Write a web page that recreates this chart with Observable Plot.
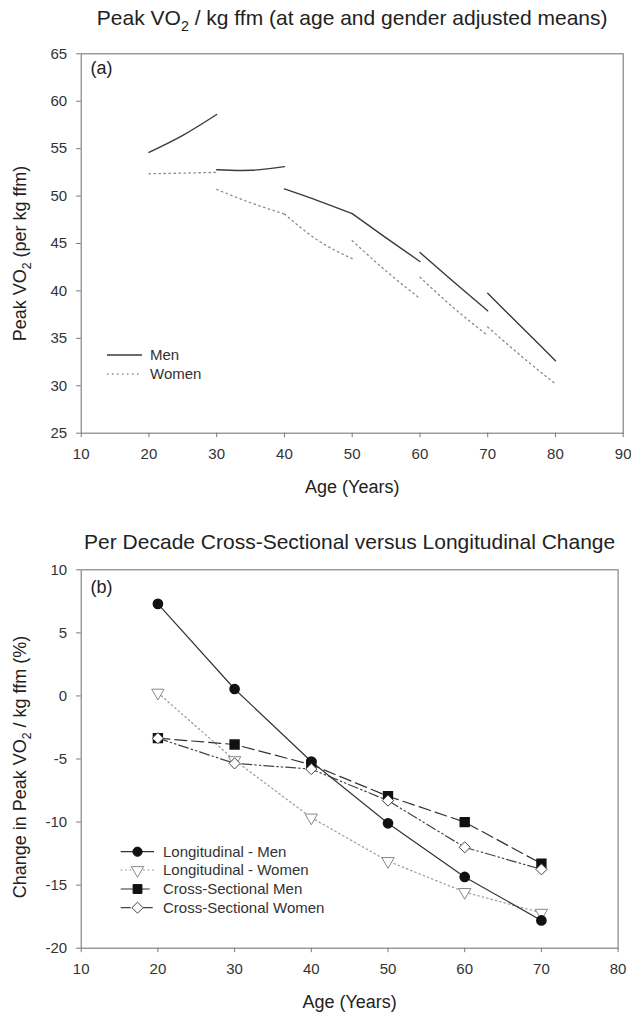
<!DOCTYPE html>
<html><head><meta charset="utf-8">
<script src="https://cdn.jsdelivr.net/npm/d3@7"></script>
<script src="https://cdn.jsdelivr.net/npm/@observablehq/plot@0.6"></script>
<style>
html,body{margin:0;padding:0;background:#fff;}
#root{position:relative;width:631px;height:1012px;overflow:hidden;background:#fff;}
#root svg{display:block;position:absolute;left:0;}
</style></head><body><div id="root"></div>
<script>
// ---------- Panel (a): Peak VO2 / kg ffm, per decade segments ----------
const decadeStart = [20, 30, 40, 50, 60, 70];
const menStart   = [54.6, 52.78, 50.75, 48.15, 44.05, 39.75];
const menMid     = [56.4, 52.72, 49.5, 45.6, 40.95, 36.2];
const menEnd     = [58.6, 53.1, 48.15, 43.1, 37.9, 32.65];
const womenStart = [52.35, 50.7, 48.1, 45.3, 41.45, 36.2];
const womenMid   = [52.42, 49.3, 45.3, 42.1, 38.2, 33.1];
const womenEnd   = [52.5, 48.1, 43.4, 39.2, 35.3, 30.2];
const xTicksA = [10, 20, 30, 40, 50, 60, 70, 80, 90];
const yTicksA = [25, 30, 35, 40, 45, 50, 55, 60, 65];
const titleA = "Peak VO2 / kg ffm (at age and gender adjusted means)";
const yLabelA = "Peak VO2 (per kg ffm)";
const legendA = ["Men", "Women"];

// ---------- Panel (b): per decade change ----------
const agesB = [20, 30, 40, 50, 60, 70];
const longMen    = [7.3, 0.55, -5.2, -10.1, -14.35, -17.8];
const longWomen  = [0.25, -5.1, -9.65, -13.1, -15.55, -17.2];
const crossMen   = [-3.35, -3.85, -5.45, -7.95, -10.0, -13.3];
const crossWomen = [-3.35, -5.35, -5.8, -8.3, -12.0, -13.75];
const xTicksB = [10, 20, 30, 40, 50, 60, 70, 80];
const yTicksB = [-20, -15, -10, -5, 0, 5, 10];
const titleB = "Per Decade Cross-Sectional versus Longitudinal Change";
const yLabelB = "Change in Peak VO2 / kg ffm (%)";
const legendB = ["Longitudinal - Men", "Longitudinal - Women", "Cross-Sectional Men", "Cross-Sectional Women"];
const xLabel = "Age (Years)";

const FONT = "'Liberation Sans', Arial, Helvetica, sans-serif";
const AXIS = "#7a7a7a";
const TEXT = "#333";
const MEN = "#3a3a3a";
const WOMEN = "#8a8a8a";

const invTriangle = {
  draw(ctx, size) {
    const s = Math.sqrt(4 * size / Math.sqrt(3));
    const h = s * Math.sqrt(3) / 2;
    ctx.moveTo(0, 2 * h / 3);
    ctx.lineTo(-s / 2, -h / 3);
    ctx.lineTo(s / 2, -h / 3);
    ctx.closePath();
  }
};

function segRows(starts, mids, ends) {
  const rows = [];
  decadeStart.forEach((a, i) => {
    rows.push({seg: i, age: a, v: starts[i]});
    rows.push({seg: i, age: a + 5, v: mids[i]});
    rows.push({seg: i, age: a + 10, v: ends[i]});
  });
  return rows;
}
const menRows = segRows(menStart, menMid, menEnd);
const womenRows = segRows(womenStart, womenMid, womenEnd);

function axes(xt, yt) {
  return [
    Plot.frame({stroke: AXIS, strokeWidth: 1.1}),
    Plot.axisX({ticks: xt, tickSize: 4.5, tickPadding: 11, tickFormat: d => String(d), label: null,
      stroke: AXIS, fill: TEXT, fontSize: 15}),
    Plot.axisY({ticks: yt, tickSize: 4.5, tickPadding: 9.5, tickFormat: d => String(d), label: null,
      stroke: AXIS, fill: TEXT, fontSize: 15})
  ];
}
const T = {textAnchor: "middle", lineAnchor: "middle", fill: "#222"};

const root = document.getElementById("root");

// ---------- Build (a) ----------
const plotA = Plot.plot({
  width: 631, height: 500,
  marginLeft: 80.7, marginRight: 8.3, marginTop: 53.3, marginBottom: 67.3,
  style: {fontFamily: FONT, fontSize: "15px", color: TEXT, background: "white", overflow: "visible"},
  x: {domain: [10, 90]},
  y: {domain: [25, 65]},
  marks: [
    ...axes(xTicksA, yTicksA),
    Plot.line(womenRows, {x: "age", y: "v", z: "seg", curve: "natural", stroke: WOMEN, strokeWidth: 1.3,
      strokeDasharray: "1.5,3.5"}),
    Plot.line(menRows, {x: "age", y: "v", z: "seg", curve: "natural", stroke: MEN, strokeWidth: 1.4}),
    Plot.text([titleA], {...T, text: d => d, frameAnchor: "top", dy: -35.3, fontSize: 21}),
    Plot.text([xLabel], {...T, text: d => d, frameAnchor: "bottom", dy: 54, fontSize: 18}),
    Plot.text([yLabelA], {...T, text: d => d, frameAnchor: "left", rotate: -90, dx: -61, dy: 10, fontSize: 18}),
    Plot.text(["(a)"], {...T, textAnchor: "start", text: d => d, frameAnchor: "top-left", dx: 9.3, dy: 14.7, fontSize: 18})
  ]
});
plotA.style.top = "0px";
root.appendChild(plotA);

// ---------- Build (b) ----------
const series = [
  {name: legendB[0], vals: longMen},
  {name: legendB[1], vals: longWomen},
  {name: legendB[2], vals: crossMen},
  {name: legendB[3], vals: crossWomen}
];
const rowsB = series.map(s => agesB.map((a, i) => ({age: a, v: s.vals[i], name: s.name})));

const plotB = Plot.plot({
  width: 631, height: 507,
  marginLeft: 80.7, marginRight: 13.4, marginTop: 64.3, marginBottom: 64.3,
  style: {fontFamily: FONT, fontSize: "15px", color: TEXT, background: "white", overflow: "visible"},
  x: {domain: [10, 80]},
  y: {domain: [-20, 10]},
  marks: [
    ...axes(xTicksB, yTicksB),
    Plot.line(rowsB[1], {x: "age", y: "v", stroke: "#999", strokeWidth: 1.2, strokeDasharray: "1.5,3"}),
    Plot.line(rowsB[3], {x: "age", y: "v", stroke: "#444", strokeWidth: 1.2, strokeDasharray: "10,3,1.5,3,1.5,3"}),
    Plot.line(rowsB[2], {x: "age", y: "v", stroke: "#333", strokeWidth: 1.2, strokeDasharray: "12,5"}),
    Plot.line(rowsB[0], {x: "age", y: "v", stroke: "#333", strokeWidth: 1.2}),
    Plot.dot(rowsB[2], {x: "age", y: "v", symbol: "square", r: 5, fill: "#111", stroke: "#111"}),
    Plot.dot(rowsB[1], {x: "age", y: "v", symbol: invTriangle, r: 4.6, fill: "white", stroke: "#888", strokeWidth: 1}),
    Plot.dot(rowsB[0], {x: "age", y: "v", symbol: "circle", r: 4.6, fill: "#111", stroke: "#111"}),
    Plot.dot(rowsB[3], {x: "age", y: "v", symbol: "diamond2", r: 5, fill: "white", stroke: "#444", strokeWidth: 1}),
    Plot.text([titleB], {...T, text: d => d, frameAnchor: "top", dy: -27.6, fontSize: 21}),
    Plot.text([xLabel], {...T, text: d => d, frameAnchor: "bottom", dy: 54, fontSize: 18}),
    Plot.text([yLabelB], {...T, text: d => d, frameAnchor: "left", rotate: -90, dx: -61, dy: 8, fontSize: 18}),
    Plot.text(["(b)"], {...T, textAnchor: "start", text: d => d, frameAnchor: "top-left", dx: 9.3, dy: 17.4, fontSize: 18})
  ]
});
plotB.style.top = "505px";
root.appendChild(plotB);

// ---------- Subscript "2" in VO2 ----------
function subscriptify(svg) {
  d3.select(svg).selectAll("text").each(function () {
    const t = this.textContent;
    if (!t.includes("VO2")) return;
    const fs = parseFloat(getComputedStyle(this).fontSize) || 18;
    const parts = t.split("VO2");
    this.textContent = "";
    const sel = d3.select(this);
    parts.forEach((p, i) => {
      if (i > 0) {
        sel.append("tspan").text("2").attr("font-size", fs * 0.68).attr("dy", fs * 0.28);
        sel.append("tspan").text(p).attr("dy", -fs * 0.28);
      } else {
        sel.append("tspan").text(p + "VO");
      }
    });
  });
}
subscriptify(plotA);
subscriptify(plotB);

// ---------- Legends ----------
function addLegendA(svg) {
  const g = d3.select(svg).append("g").attr("font-family", FONT).attr("font-size", 15)
    .attr("fill", TEXT).attr("text-anchor", "start");
  const rows = [
    {y: 355, stroke: MEN, dash: null, w: 1.4},
    {y: 374, stroke: WOMEN, dash: "1.5,3.5", w: 1.3}
  ];
  rows.forEach((r, i) => {
    g.append("line").attr("x1", 107).attr("x2", 142).attr("y1", r.y).attr("y2", r.y)
      .attr("stroke", r.stroke).attr("stroke-width", r.w).attr("stroke-dasharray", r.dash);
    g.append("text").attr("x", 150).attr("y", r.y).attr("dy", "0.35em").text(legendA[i]);
  });
}
addLegendA(plotA);

function addLegendB(svg) {
  const g = d3.select(svg).append("g").attr("font-family", FONT).attr("font-size", 15)
    .attr("fill", TEXT).attr("text-anchor", "start");
  const styles = [
    {stroke: "#333", dash: null, sym: d3.symbolCircle, r: 4.6, fill: "#111", sstroke: "#111"},
    {stroke: "#999", dash: "1.5,3", sym: invTriangle, r: 4.6, fill: "white", sstroke: "#888"},
    {stroke: "#333", dash: "12,5", sym: d3.symbolSquare, r: 5, fill: "#111", sstroke: "#111"},
    {stroke: "#444", dash: "10,3,1.5,3,1.5,3", sym: d3.symbolDiamond2, r: 5, fill: "white", sstroke: "#444"}
  ];
  const ys = [346.7, 365.2, 384, 402.7];
  styles.forEach((s, i) => {
    const y = ys[i];
    g.append("line").attr("x1", 120.7).attr("x2", 154).attr("y1", y).attr("y2", y)
      .attr("stroke", s.stroke).attr("stroke-width", 1.2).attr("stroke-dasharray", s.dash);
    g.append("path").attr("transform", `translate(137.5,${y})`)
      .attr("d", d3.symbol(s.sym, Math.PI * s.r * s.r)())
      .attr("fill", s.fill).attr("stroke", s.sstroke).attr("stroke-width", 1);
    g.append("text").attr("x", 163).attr("y", y).attr("dy", "0.35em").text(legendB[i]);
  });
}
addLegendB(plotB);
</script>
</body></html>
